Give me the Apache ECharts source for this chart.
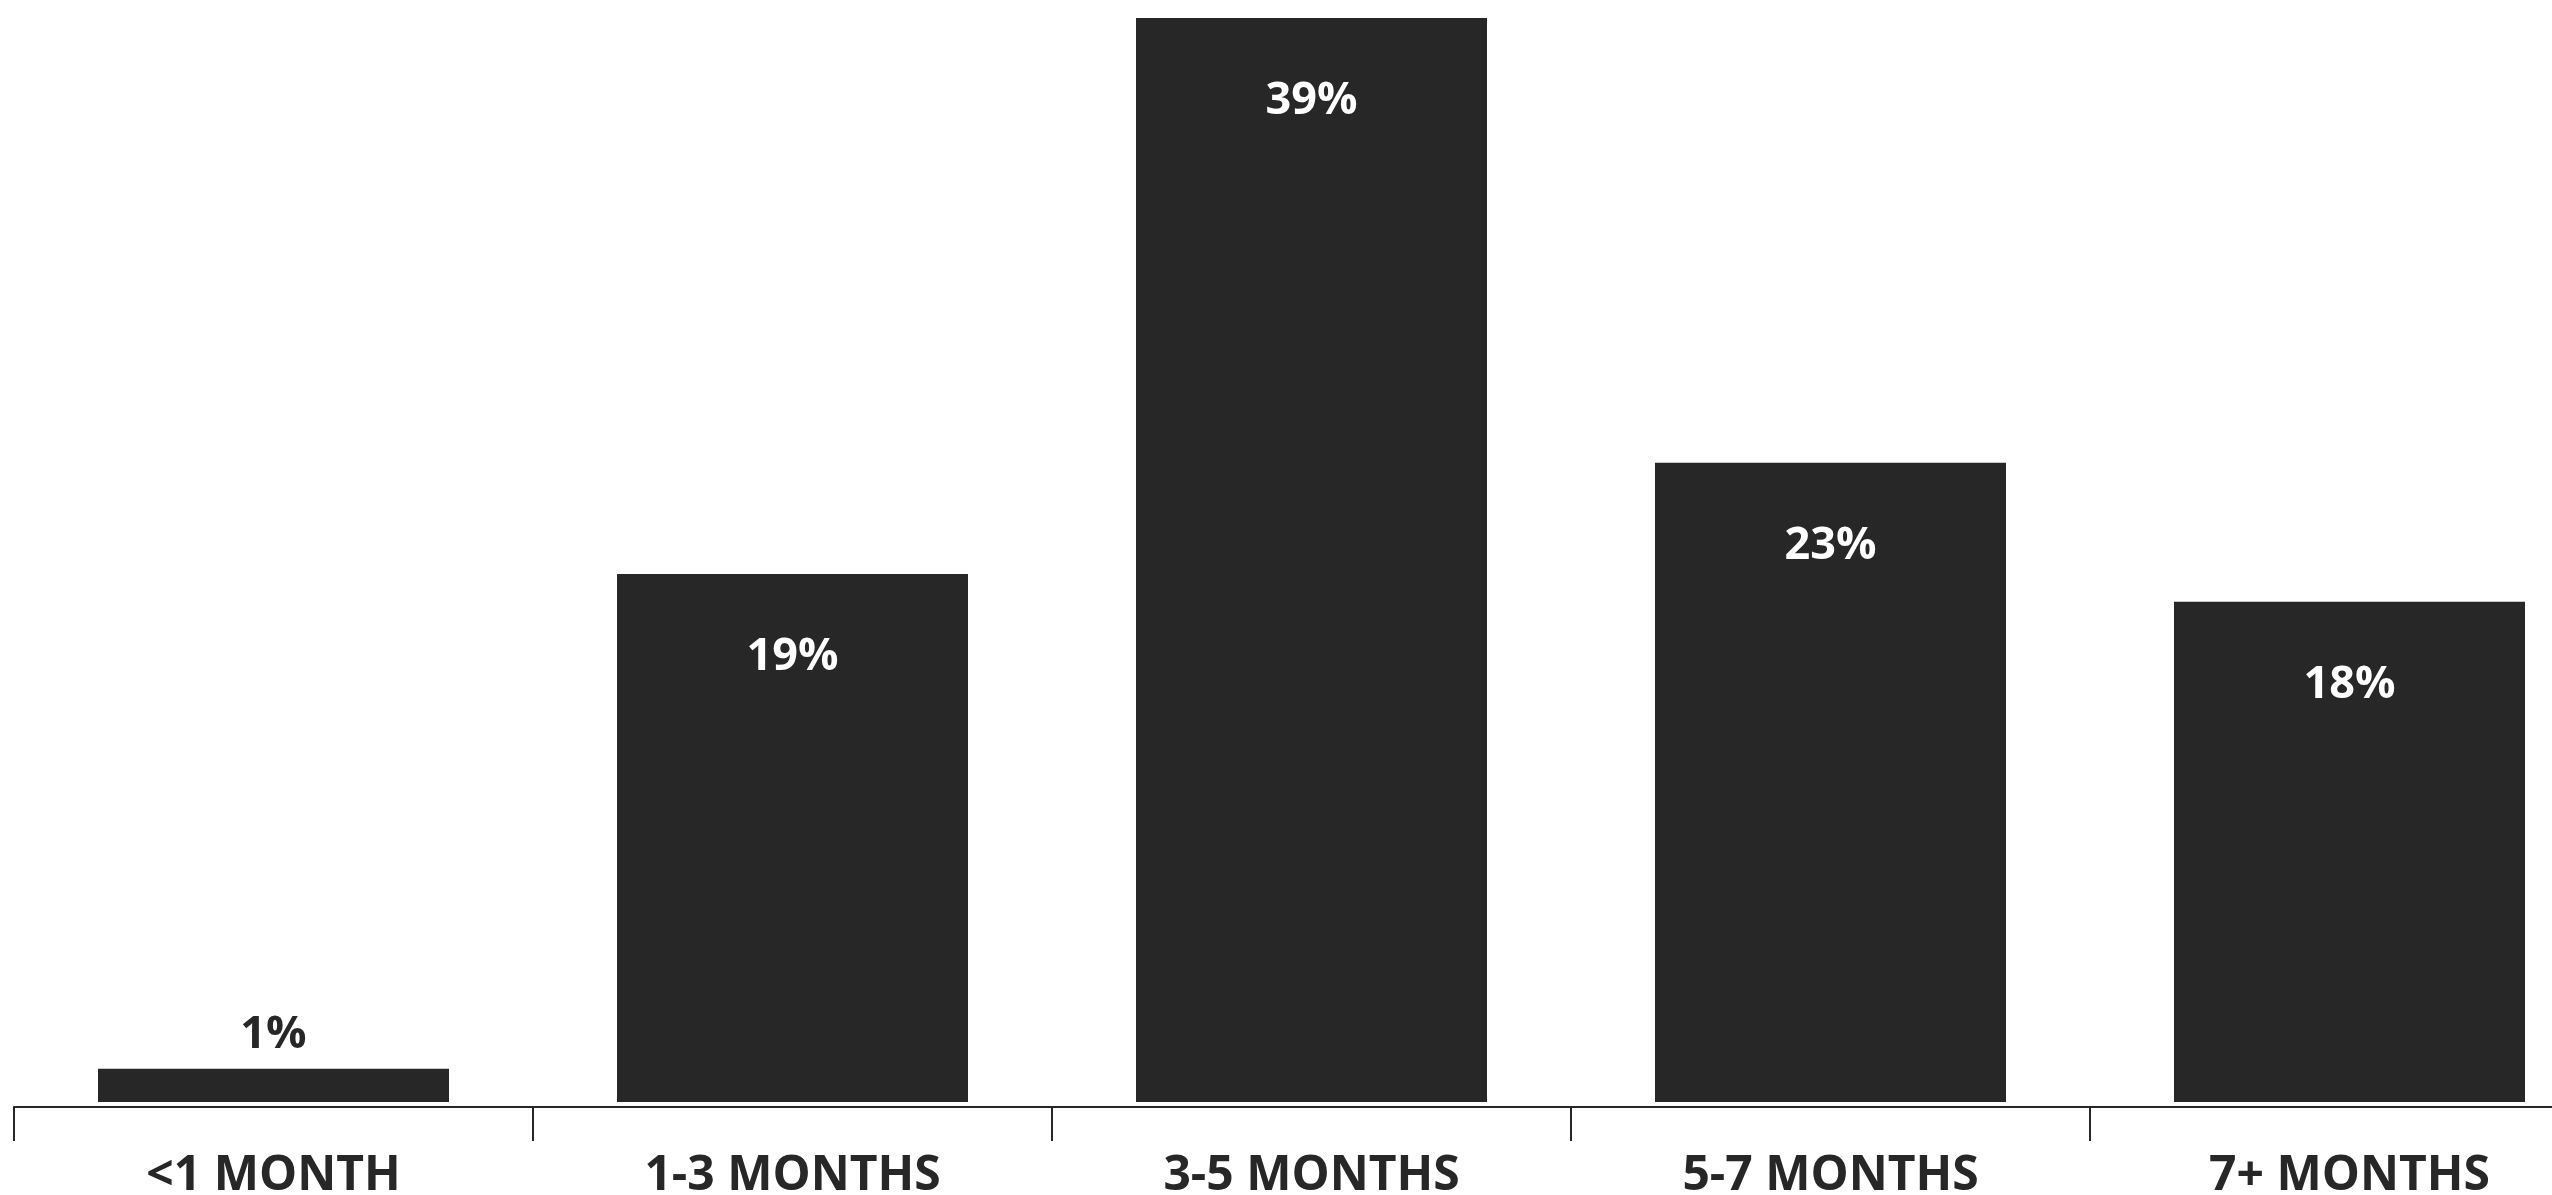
<!DOCTYPE html>
<html>
<head>
<meta charset="utf-8">
<style>
  html, body { margin: 0; padding: 0; background: #ffffff; }
  #chart { width: 2552px; height: 1195px; }
</style>
<script src="https://cdn.jsdelivr.net/npm/echarts@6/dist/echarts.min.js"></script>
</head>
<body>
<div id="chart"></div>
<script>
const categories = ['<1 MONTH', '1-3 MONTHS', '3-5 MONTHS', '5-7 MONTHS', '7+ MONTHS'];
const shareValues = [1.2, 19, 39, 23, 18];
const labelTexts = ['1%', '19%', '39%', '23%', '18%'];

const ink = '#272727';
const fontFamily = '"Open Sans", "Noto Sans", sans-serif';

const seriesData = shareValues.map((v, i) => {
  const small = v < 5;
  return {
    value: v,
    label: {
      show: true,
      formatter: labelTexts[i],
      position: small ? 'top' : 'insideTop',
      distance: small ? 11 : 61,
      color: small ? ink : '#ffffff',
      fontFamily: fontFamily,
      fontWeight: 'bold',
      fontSize: 45
    }
  };
});

const chart = echarts.init(document.getElementById('chart'), null, { renderer: 'canvas' });
chart.setOption({
  animation: false,
  backgroundColor: '#ffffff',
  grid: { left: 14, width: 2595, top: 18, bottom: 88, containLabel: false, outerBoundsMode: 'none' },
  xAxis: {
    type: 'category',
    data: categories,
    boundaryGap: true,
    axisLine: { show: true, onZero: false, lineStyle: { color: ink, width: 2 } },
    axisTick: { show: true, length: 34, alignWithLabel: false, lineStyle: { color: ink, width: 2 } },
    axisLabel: {
      show: true,
      margin: 45,
      color: ink,
      fontFamily: fontFamily,
      fontWeight: 'bold',
      fontSize: 48
    },
    splitLine: { show: false }
  },
  yAxis: {
    type: 'value',
    min: -0.18,
    max: 39,
    show: false,
    splitLine: { show: false }
  },
  series: [{
    type: 'bar',
    data: seriesData,
    barWidth: 351,
    itemStyle: { color: ink }
  }]
});
</script>
</body>
</html>
